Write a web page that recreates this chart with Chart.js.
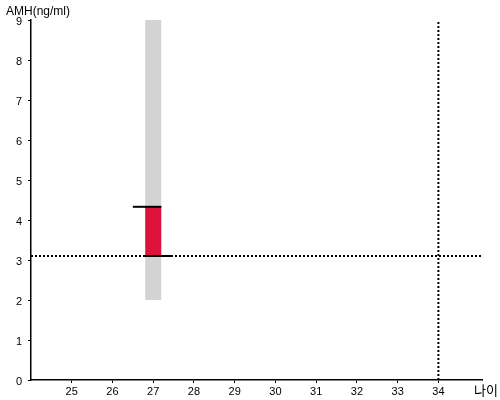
<!DOCTYPE html>
<html>
<head>
<meta charset="utf-8">
<script src="https://cdn.jsdelivr.net/npm/chart.js@4.4.0/dist/chart.umd.min.js"></script>
<style>
    body { margin: 0; background: #fff; }
    #wrap { width: 500px; height: 400px; }
</style>
</head>
<body>
<div id="wrap"><canvas id="amhChart" width="500" height="400"></canvas></div>
<script>
// AMH range chart by age
const ageTicks = [25, 26, 27, 28, 29, 30, 31, 32, 33, 34];
const amhTicks = [0, 1, 2, 3, 4, 5, 6, 7, 8, 9];
const ageMin = 24, ageMax = 35.07;

const age = 27;
const normalRange = [2, 9];      // gray band
const myRange = [3.1, 4.33];     // red band
const upperCapAges = [26.5, 27.2];
const lowerCapAges = [26.8, 27.46];
const refAge = 34;
const refAmh = 3.1;

const FONT = "'Liberation Sans', Arial, sans-serif";

// axis titles drawn as text in the corners
const labelsPlugin = {
    id: 'cornerLabels',
    afterDraw(chart) {
        let c = chart.ctx;
        c.save();
        c.fillStyle = '#000';
        c.textBaseline = 'middle';
        c.textAlign = 'left';
        c.font = '12px ' + FONT;
        c.fillText('AMH(ng/ml)', 6, 12);
        c.font = "13px 'Noto Sans CJK KR', sans-serif";
        c.fillText('나이', 474, 390);
        c.restore();
    }
};

let ctx = document.getElementById('amhChart').getContext('2d');
new Chart(ctx, {
    type: 'scatter',
    data: {
        datasets: [
            {
                data: [{ x: age, y: normalRange[0] }, { x: age, y: normalRange[1] }],
                borderColor: '#d3d3d3', borderWidth: 16, borderCapStyle: 'butt', order: 5
            },
            {
                data: [{ x: age, y: myRange[0] }, { x: age, y: myRange[1] }],
                borderColor: '#dc143c', borderWidth: 16, borderCapStyle: 'butt', order: 4
            },
            {
                data: upperCapAges.map(a => ({ x: a, y: myRange[1] })),
                borderColor: '#000', borderWidth: 2, borderCapStyle: 'butt', order: 3
            },
            {
                data: lowerCapAges.map(a => ({ x: a, y: myRange[0] })),
                borderColor: '#000', borderWidth: 2, borderCapStyle: 'butt', order: 2
            },
            {
                data: [{ x: ageMin, y: refAmh }, { x: ageMax, y: refAmh }],
                borderColor: '#000', borderWidth: 2, borderDash: [2, 2], order: 6
            },
            {
                data: [{ x: refAge, y: 0 }, { x: refAge, y: 9 }],
                borderColor: '#000', borderWidth: 2, borderDash: [2, 2], order: 7
            }
        ].map(d => Object.assign({ showLine: true, pointRadius: 0, pointHoverRadius: 0, clip: false }, d))
    },
    options: {
        responsive: false,
        animation: false,
        events: [],
        layout: { padding: { top: 20, right: 18, left: 0, bottom: 0 } },
        plugins: { legend: { display: false }, tooltip: { enabled: false } },
        scales: {
            x: {
                type: 'linear', min: ageMin, max: ageMax,
                afterBuildTicks: s => { s.ticks = ageTicks.map(v => ({ value: v })); },
                afterFit: s => { s.height = 20; },
                grid: { display: true, drawOnChartArea: false, drawTicks: true, tickLength: 3, tickColor: '#000', tickWidth: 1 },
                border: { display: true, color: '#000', width: 1.5 },
                ticks: { color: '#000', font: { family: FONT, size: 11 }, padding: 2, maxRotation: 0 }
            },
            y: {
                type: 'linear', min: 0, max: 9,
                afterBuildTicks: s => { s.ticks = amhTicks.map(v => ({ value: v })); },
                afterFit: s => { s.width = 31; },
                grid: { display: true, drawOnChartArea: false, drawTicks: true, tickLength: 3, tickColor: '#000', tickWidth: 1 },
                border: { display: true, color: '#000', width: 1.5 },
                ticks: { color: '#000', font: { family: FONT, size: 11 }, padding: 6, labelOffset: 2 }
            }
        }
    },
    plugins: [labelsPlugin]
});
</script>
</body>
</html>
